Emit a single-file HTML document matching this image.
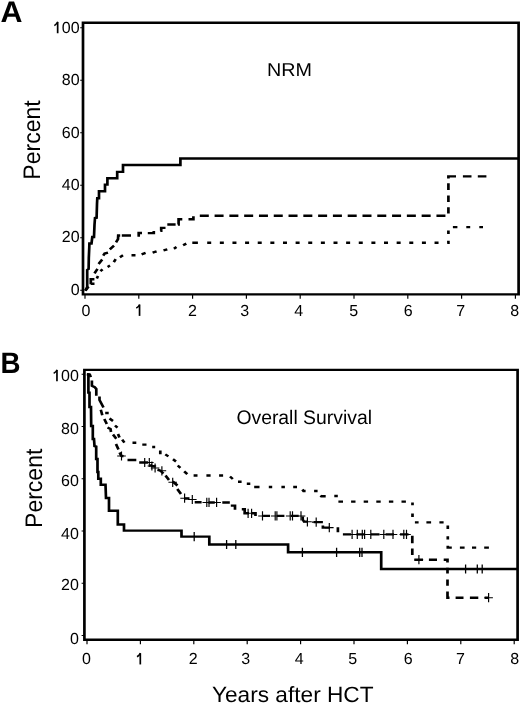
<!DOCTYPE html><html><head><meta charset="utf-8"><title>Figure</title><style>html,body{margin:0;padding:0;background:#fff;overflow:hidden}svg{display:block;will-change:transform}text{font-family:"Liberation Sans",sans-serif;fill:#000;text-rendering:geometricPrecision}</style></head><body>
<svg width="520" height="703" viewBox="0 0 520 703">
<rect width="520" height="703" fill="#fff"/>
<text x="0.6" y="22.4" font-size="29.8" font-weight="bold" textLength="22" lengthAdjust="spacingAndGlyphs">A</text>
<text x="0.4" y="372.5" font-size="29.6" font-weight="bold" textLength="20" lengthAdjust="spacingAndGlyphs">B</text>
<text x="79.6" y="295.35" text-anchor="end" font-size="16">0</text>
<text x="79.6" y="242.35" text-anchor="end" font-size="16">20</text>
<text x="79.6" y="190.35" text-anchor="end" font-size="16">40</text>
<text x="79.6" y="137.85" text-anchor="end" font-size="16">60</text>
<text x="79.6" y="85.35" text-anchor="end" font-size="16">80</text>
<path d="M57.66 33.25V22.05" stroke="#000" stroke-width="1.7" fill="none"/><path d="M54.36 25.55C55.96 24.65 57.16 23.65 57.76 21.85" stroke="#000" stroke-width="1.5" fill="none"/>
<text x="61.81" y="33.25" font-size="16">0</text>
<text x="70.7" y="33.25" font-size="16">0</text>
<text x="86" y="315.9" text-anchor="middle" font-size="16">0</text>
<path d="M139.55 315.9V304.7" stroke="#000" stroke-width="1.7" fill="none"/><path d="M136.25 308.2C137.85 307.3 139.05 306.3 139.65 304.5" stroke="#000" stroke-width="1.5" fill="none"/>
<text x="192.5" y="315.9" text-anchor="middle" font-size="16">2</text>
<text x="244.7" y="315.9" text-anchor="middle" font-size="16">3</text>
<text x="298.7" y="315.9" text-anchor="middle" font-size="16">4</text>
<text x="353.7" y="315.9" text-anchor="middle" font-size="16">5</text>
<text x="408.3" y="315.9" text-anchor="middle" font-size="16">6</text>
<text x="460.8" y="315.9" text-anchor="middle" font-size="16">7</text>
<text x="514.8" y="315.9" text-anchor="middle" font-size="16">8</text>
<text x="78.9" y="643.75" text-anchor="end" font-size="16">0</text>
<text x="78.9" y="590.33" text-anchor="end" font-size="16">20</text>
<text x="78.9" y="538.71" text-anchor="end" font-size="16">40</text>
<text x="78.9" y="486.19" text-anchor="end" font-size="16">60</text>
<text x="78.9" y="433.67" text-anchor="end" font-size="16">80</text>
<path d="M56.96 381.15V369.95" stroke="#000" stroke-width="1.7" fill="none"/><path d="M53.66 373.45C55.26 372.55 56.46 371.55 57.06 369.75" stroke="#000" stroke-width="1.5" fill="none"/>
<text x="61.11" y="381.15" font-size="16">0</text>
<text x="70" y="381.15" font-size="16">0</text>
<text x="86.55" y="664.45" text-anchor="middle" font-size="16">0</text>
<path d="M140.3 664.45V653.25" stroke="#000" stroke-width="1.7" fill="none"/><path d="M137 656.75C138.6 655.85 139.8 654.85 140.4 653.05" stroke="#000" stroke-width="1.5" fill="none"/>
<text x="193.15" y="664.45" text-anchor="middle" font-size="16">2</text>
<text x="245.8" y="664.45" text-anchor="middle" font-size="16">3</text>
<text x="299.1" y="664.45" text-anchor="middle" font-size="16">4</text>
<text x="352.7" y="664.45" text-anchor="middle" font-size="16">5</text>
<text x="408.1" y="664.45" text-anchor="middle" font-size="16">6</text>
<text x="460.55" y="664.45" text-anchor="middle" font-size="16">7</text>
<text x="514.8" y="664.45" text-anchor="middle" font-size="16">8</text>
<text transform="translate(40.1 140) rotate(-90) scale(1 1.04)" text-anchor="middle" font-size="23">Percent</text>
<text transform="translate(42.4 488.3) rotate(-90) scale(1 1.04)" text-anchor="middle" font-size="23">Percent</text>
<text x="212" y="702.4" font-size="22" textLength="161.5" lengthAdjust="spacingAndGlyphs">Years after HCT</text>
<text x="267" y="76.4" font-size="18.6" textLength="45" lengthAdjust="spacingAndGlyphs">NRM</text>
<text x="236.4" y="424.2" font-size="19.6" textLength="135.6" lengthAdjust="spacingAndGlyphs">Overall Survival</text>
<g transform="scale(1.12 1)">
<path d="M74.11 22.8H463.04V294.35H74.11Z" fill="none" stroke="#000" stroke-width="2.4" stroke-linejoin="miter" stroke-miterlimit="3"/>
<path d="M71.61 290.2H74.11M71.61 237.7H74.11M71.61 185.2H74.11M71.61 132.7H74.11M71.61 80.2H74.11M71.61 27.7H74.11M75.89 294.35V298.85M123.93 294.35V298.85M171.96 294.35V298.85M220 294.35V298.85M268.04 294.35V298.85M316.07 294.35V298.85M364.11 294.35V298.85M412.14 294.35V298.85M460.18 294.35V298.85" fill="none" stroke="#000" stroke-width="1.05" stroke-linejoin="miter" stroke-miterlimit="3"/>
<path d="M75.36 369.9H462.14V639.8H75.36Z" fill="none" stroke="#000" stroke-width="2.4" stroke-linejoin="miter" stroke-miterlimit="3"/>
<path d="M72.86 635.4H75.36M72.86 583.18H75.36M72.86 530.96H75.36M72.86 478.74H75.36M72.86 426.52H75.36M72.86 374.3H75.36M77.68 639.8V644.3M125.36 639.8V644.3M173.04 639.8V644.3M220.71 639.8V644.3M268.39 639.8V644.3M316.07 639.8V644.3M363.75 639.8V644.3M411.43 639.8V644.3M459.11 639.8V644.3" fill="none" stroke="#000" stroke-width="1.05" stroke-linejoin="miter" stroke-miterlimit="3"/>
<path d="M76.16 290.8L77.86 287L77.86 270L79.11 269L79.29 258L79.73 247L79.82 243.5L81.7 243.5L82.41 237L83.93 237L84.37 225L84.82 218L86.25 217.7L86.61 204L86.87 198.2L88.39 198.2L88.39 191.3L93.75 191.3L93.75 184.6L95.89 184.6L95.89 178.3L104.64 178.3L104.64 171.9L109.82 171.9L109.82 165L161.07 165L161.07 158.5L462.5 158.5" fill="none" stroke="#000" stroke-width="2.4" stroke-linejoin="miter" stroke-miterlimit="3"/>
<path d="M76.34 290.5L79.02 286.5M81.07 284.2L81.07 279.3L84.29 279.3M84.37 273.3L87.05 268.8M88.04 264L91.25 259.5M92.14 255.7L93.39 253.6L96.43 252.6M98.04 249.3L101.79 245.6M103.57 242.3L105.36 239.2L105.54 235.5L107.32 235.5M108.75 235.5L116.96 235.5M122.68 235.5L123.84 235.5L123.84 233L126.79 233M131.96 233.1L137.32 233.1L137.32 230.9M143.12 230.8L143.93 230.8L143.93 227.9L147.77 227.9M149.38 224.5L156.79 224.5M158.84 224.5L159.46 224.5L159.46 219.2L162.77 219.2M168.3 219.2L172.68 219.2L172.68 216.2M178.39 215.7H186.43M191.6 215.7H199.63M204.8 215.7H212.84M218.01 215.7H226.04M231.21 215.7H239.25M244.42 215.7H252.46M257.62 215.7H265.66M270.83 215.7H278.87M284.04 215.7H292.07M297.24 215.7H305.28M310.45 215.7H318.48M323.65 215.7H331.69M336.86 215.7H344.89M350.06 215.7H358.1M363.27 215.7H371.3M376.47 215.7H384.51M389.68 215.7H397.71M400.36 213.4V207.2M400.36 202.1V195.5M400.36 189.9V183.3M400.36 178.4V176.4H407.14M413.3 176.4H420.98M426.61 176.4H434.29" fill="none" stroke="#000" stroke-width="2.4" stroke-linejoin="miter" stroke-miterlimit="3"/>
<path d="M81.07 283.8L84.37 283.8M86.43 278.4L87.5 276M89.64 271.2L91.61 269.4M96.07 267L98.21 265.6M101.61 262.2L103.3 259.2M107.05 257.2L109.82 255.3M117.41 255.3L120.98 255.3M126.43 254.3L130 252.8M136.25 252.6L139.82 251.3M145.98 250.4L149.38 249.3M155.27 248.7L157.59 247M163.48 245.3L166.34 243.6M171.7 242.7L176.7 242.7M185 242.7H188.57M196.28 242.7H199.85M207.55 242.7H211.12M218.83 242.7H222.4M230.11 242.7H233.68M241.38 242.7H244.96M252.66 242.7H256.23M263.94 242.7H267.51M275.21 242.7H278.79M286.49 242.7H290.06M297.77 242.7H301.34M309.04 242.7H312.62M320.32 242.7H323.89M331.6 242.7H335.17M342.87 242.7H346.45M354.15 242.7H357.72M365.43 242.7H369M376.71 242.7H380.28M387.98 242.7H391.55M399.29 242.7H400.36V240.8M400.36 234V230.6M404.37 227.1H408.39M416.34 227.1H419.82M427.95 227.1H431.25" fill="none" stroke="#000" stroke-width="2.4" stroke-linejoin="miter" stroke-miterlimit="3"/>
<path d="M78.93 373.2L78.93 392.6L79.91 392.6L79.91 407L81.25 407L81.43 426L82.86 426L82.86 439L83.93 439L84.37 446L85.89 446.5L85.89 459L87.05 459L87.05 472L87.77 472L87.77 478.7L90 478.7L90 484.8L94.2 484.8L94.64 498L97.32 498L97.32 510.8L105.18 510.8L105.18 524.5L110.71 524.5L110.71 530.6L162.05 530.6L162.05 536.6L186.88 536.6L186.88 544.5L257.23 544.5L257.23 552.3L340.36 552.3L340.36 569L462.5 569" fill="none" stroke="#000" stroke-width="2.4" stroke-linejoin="miter" stroke-miterlimit="3"/>
<path d="M173.39 532V541.2M202.32 539.9V549.1M210.54 539.9V549.1M270 547.7V556.9M300.54 547.7V556.9M321.16 547.7V556.9M323.21 547.7V556.9M415.71 564.4V573.6M426.16 564.4V573.6M430.54 564.4V573.6" fill="none" stroke="#000" stroke-width="1.15" stroke-linejoin="miter" stroke-miterlimit="3"/>
<path d="M77.5 374.2L80.18 374.6L81.07 377.2M82.05 380.5L82.05 385.7L84.64 387.2L85.98 388.9L85.98 395.8M88.84 396.4L88.84 400L92.41 407.4" fill="none" stroke="#000" stroke-width="2.4" stroke-linejoin="miter" stroke-miterlimit="3"/>
<path d="M90 409.8L91.34 415.2M93.12 419L95.36 424M95.98 427.5L98.66 429L99.11 432M100.89 434.5L103.84 438.7M103.57 444L105.8 449.5M106.79 452.5L108.21 455.8L110.27 456.2M113.84 460L121.7 460M124.29 462.5L132.14 462.5M134.38 464.2L135.27 466L138.84 466.5M140.62 469.5L142.86 470.5L145.98 473.5M147.77 475.5L150.89 480M154.2 481.5L158.48 485.5M158.3 489L161.61 494M164.29 498.5L169.2 498.5M173.84 502.3L180 502.3M186.16 502.5L191.79 502.5M198.48 502.5L205.18 502.5M206.07 505.6L209.82 505.6L209.82 509.8M215.89 509.2L218.48 509.2L218.48 513.2L222.32 513.2M224.11 513.2L228.12 513.2L228.12 515.9M234.91 515.9L241.07 515.9M247.23 515.9L253.93 515.9M259.82 515.9L266.7 515.9M270.27 516.5L270.27 519.5L271.43 521.6L274.11 521.6M280.09 522.1L288.3 522.1M288.3 525.5L288.3 527.6L294.46 527.6M301.7 527.2L301.7 532.2M306.16 534.4L313.39 534.4M318.3 534.4L325.89 534.4M331.25 534.4L338.84 534.4M344.2 534.4L351.79 534.4M357.14 534.4L364.73 534.4M368.12 535.8L368.12 543.2M368.12 548.6L368.12 555M369.91 559.7L377.68 559.7M382.95 559.7L390.18 559.7M396.16 559.7L399.55 559.7L399.55 562.5M399.55 567.8L399.55 573.6M399.55 579.5L399.55 585.7M399.55 591.6L399.55 597.7L401.34 597.7M406.79 597.7L413.84 597.7M419.55 597.7L427.05 597.7M432.68 597.7L436.61 597.7" fill="none" stroke="#000" stroke-width="2.4" stroke-linejoin="miter" stroke-miterlimit="3"/>
<path d="M104.64 456H112.32M108.48 451.4V460.6M125.36 462.5H133.04M129.2 457.9V467.1M129.46 462.5H137.14M133.3 457.9V467.1M131.79 466H139.46M135.62 461.4V470.6M134.64 468H142.32M138.48 463.4V472.6M140.71 470.8H148.39M144.55 466.2V475.4M150.36 482.3H158.04M154.2 477.7V486.9M160.98 498.2H168.66M164.82 493.6V502.8M167.86 499.5H175.54M171.7 494.9V504.1M180.8 502.4H188.48M184.64 497.8V507M182.77 502.4H190.45M186.61 497.8V507M189.55 502.4H197.23M193.39 497.8V507M217.68 513.3H225.36M221.52 508.7V517.9M220.8 513.3H228.48M224.64 508.7V517.9M230.54 515.9H238.21M234.37 511.3V520.5M241.87 515.9H249.55M245.71 511.3V520.5M243.39 515.9H251.07M247.23 511.3V520.5M255.27 515.9H262.95M259.11 511.3V520.5M257.32 515.9H265M261.16 511.3V520.5M264.91 515.9H272.59M268.75 511.3V520.5M270.62 521.8H278.3M274.46 517.2V526.4M278.48 522.1H286.16M282.32 517.5V526.7M290.18 527.6H297.86M294.02 523V532.2M310.54 534.4H318.21M314.38 529.8V539M315.18 534.4H322.86M319.02 529.8V539M319.64 534.4H327.32M323.48 529.8V539M321.7 534.4H329.37M325.54 529.8V539M327.23 534.4H334.91M331.07 529.8V539M338.84 534.4H346.52M342.68 529.8V539M347.05 534.4H354.73M350.89 529.8V539M356.7 534.4H364.38M360.54 529.8V539M359.11 534.4H366.79M362.95 529.8V539M370.18 559.7H377.86M374.02 555.1V564.3M432.41 597.7H440.09M436.25 593.1V602.3" fill="none" stroke="#000" stroke-width="1.05" stroke-linejoin="miter" stroke-miterlimit="3"/>
<path d="M93.93 413L97.05 413M97.77 418.5L100.89 421M102.68 425.5L104.91 427.7M105.36 434L106.7 437.5M109.11 439.7L111.07 442.7M118.3 442.8L121.7 442.8M127.05 444.6L130.8 444.6M135.89 447L138.57 447M143.12 450.5L143.12 454.3M147.59 454.4L150.36 456.4M154.46 459.3L157.14 461.5M158.66 465.5L161.07 467.8M164.46 471.3L167.23 474.2M172.86 475.5L176.34 475.5M184.29 475.5L188.04 475.5M195.62 475.5L199.2 475.5M205.36 476.5L207.86 479M212.5 481.8L215.71 481.8M220.36 483.8L223.48 483.8M226.96 487L231.7 487M240 487L243.04 487M251.25 487L254.37 487M261.79 487L265.18 487M270 489.5L270.98 491L272.86 491M280.45 491L283.57 491M286.07 495.6L286.79 496.2L290.8 496.2M298.48 496L301.61 496M302.14 501.6L306.25 501.6M313.48 501.6H317.41M324.73 501.6H328.66M335.98 501.6H339.91M347.23 501.6H351.16M358.48 501.6H362.41M368.3 502.6V505.3M368.3 513.6V516.9M370.45 522.4H373.75M380.71 522.4H384.91M392.32 522.4H396.07M399.82 525.6V528.9M399.82 536.2V539.5M399.82 545.8V547.6H403.39M410.62 547.6H414.82M421.43 547.6H425.18M432.32 547.6H436.52" fill="none" stroke="#000" stroke-width="2.4" stroke-linejoin="miter" stroke-miterlimit="3"/>
</g>
</svg></body></html>
